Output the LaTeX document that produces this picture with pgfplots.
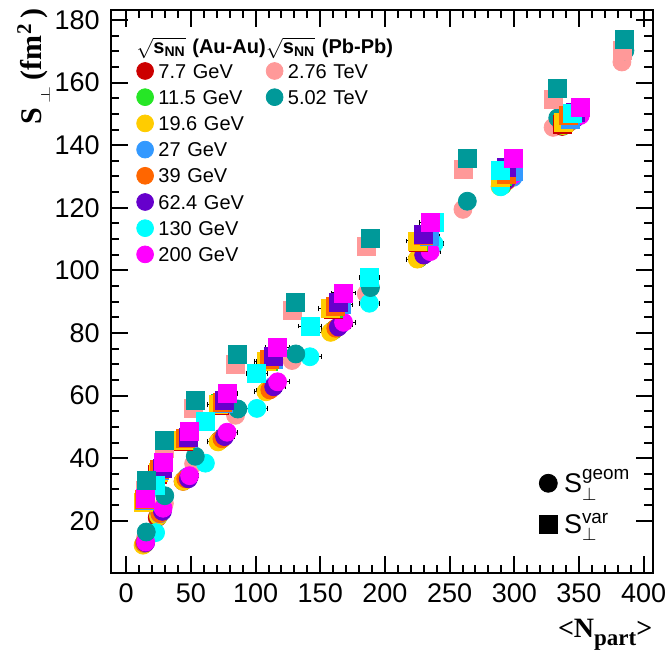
\documentclass[border=0pt]{standalone}
\usepackage{amsmath}
\usepackage{fontspec}
\setmainfont{Liberation Sans}
\newfontfamily\tnr{Liberation Serif}
\usepackage{pgfplots}
\usepackage{pgfplotstable}
\pgfplotsset{compat=1.18}

\definecolor{c77}{RGB}{204,0,0}
\definecolor{c115}{RGB}{38,230,38}
\definecolor{c196}{RGB}{255,204,0}
\definecolor{c27}{RGB}{51,153,255}
\definecolor{c39}{RGB}{255,102,0}
\definecolor{c624}{RGB}{102,0,204}
\definecolor{c130}{RGB}{0,255,255}
\definecolor{c200}{RGB}{255,0,255}
\definecolor{c276}{RGB}{255,153,153}
\definecolor{c502}{RGB}{0,153,153}

% N = <Npart>, geom = S_perp^geom, var = S_perp^var, eN = error on Npart
\pgfplotstableread{
N geom var eN
337 146.0 146.8 3
290 127.0 129.6 5
226 103.8 109.0 8
160 80.8 87.6 9
110 61.8 70.8 9
72 45.6 57.0 8
44 32.6 45.3 7
24 21.0 34.8 5
14 12.6 26.2 4
}\dSevenSeven
\pgfplotstableread{
N geom var eN
338 146.2 147.2 3
291 127.2 129.9 5
226 103.8 109.3 8
160 80.8 87.9 9
110 61.8 71.0 9
73 45.9 57.5 8
45 33.0 45.8 7
25 21.5 35.4 5
14 12.6 26.3 4
}\dElevenFive
\pgfplotstableread{
N geom var eN
338 146.3 147.3 3
289 126.8 129.7 5
225 103.6 109.4 8
158 80.2 87.7 9
108 61.2 70.8 9
71 45.2 57.1 8
44 32.6 45.7 7
25 21.5 35.5 5
13 12.2 26.0 4
}\dNineteen
\pgfplotstableread{
N geom var eN
343 147.5 148.4 3
299 129.7 131.5 5
234 106.5 111.0 8
166 82.8 89.0 9
114 63.2 71.5 9
75 46.8 57.6 8
47 34.0 46.4 7
26 22.2 36.0 5
14 12.8 26.4 4
}\dTwentySeven
\pgfplotstableread{
N geom var eN
342 147.2 149.4 3
294 128.5 130.8 5
230 105.0 111.1 8
162 81.5 88.6 9
111 61.8 71.6 9
74 46.2 57.8 8
46 33.4 46.2 7
26 22.3 36.5 5
14 12.8 26.7 4
}\dThirtyNine
\pgfplotstableread{
N geom var eN
347 148.6 150.5 3
294 128.8 132.9 5
230 104.9 111.6 8
164 81.9 89.7 9
114 62.8 72.4 9
76 46.9 58.5 8
48 33.4 46.6 7
28 23.0 36.8 5
15 13.0 27.0 4
}\dSixtyTwo
\pgfplotstableread{
N geom var eN
345 148.0 150.2 3
289.5 126.7 131.8 5
238 108.5 115.2 7
188 89.5 97.8 8
142 72.4 82.2 9
101 55.9 67.0 8
61.2 38.4 51.8 6
22.7 16.2 31.4 4
}\dOneThirty
\pgfplotstableread{
N geom var eN
351 149.5 152.1 3
299 130.5 135.7 5
235 106.0 115.2 8
168 83.4 92.8 9
117 64.4 75.4 9
78 48.3 60.7 8
49 34.4 48.7 7
28.5 24.0 38.5 5
15 13.2 27.2 4
}\dTwoHundred
\pgfplotstableread{
N geom var
383.2 166.6 170.4
330.0 145.7 154.5
260.3 119.5 132.2
185.6 92.5 107.7
128.2 71.2 87.1
84.5 53.7 70.1
52.1 38.2 56.0
29.5 25.6 43.1
14.9 14.4 29.8
}\dPbA
\pgfplotstableread{
N geom var
385.5 170.2 173.9
333.6 148.7 158.2
263.7 122.1 135.7
188.8 94.5 110.3
131.1 73.3 89.8
86.3 55.7 73.0
53.4 40.6 58.6
29.8 28.0 45.7
15.5 16.4 32.8
}\dPbB

\pgfplotsset{
  geo/.style={only marks, mark=*, mark size=4.5pt, color=#1, mark options={draw=none, fill=#1}, forget plot},
  var/.style={only marks, mark=square*, mark size=4.5pt, color=#1, mark options={draw=none, fill=#1}, forget plot},
  ebar/.style={error bars/.cd, x dir=both, x explicit,
    error bar style={black, line width=0.5pt},
    error mark options={rotate=90, black, mark size=1.2pt, line width=0.5pt}},
  leg/.style={only marks, mark=*, mark size=4.2pt, color=#1, mark options={draw=none, fill=#1}},
  % invisible legend image, same size as a legend circle
  blank/.style={legend image code/.code={\path[draw=none, fill=none] (-4.2pt,-3.6pt) rectangle (4.2pt,3.6pt);}},
}

\newcommand{\hdr}[1]{\makebox[0pt][l]{\hspace*{-10.85pt}\bfseries\fontsize{10}{12}\selectfont$\sqrt{\text{\bfseries s}_{\text{\bfseries NN}}}$ (#1)}}
\newcommand{\flatperp}{\raisebox{-4.1pt}{\scalebox{1}[0.6]{$\scriptstyle\perp$}}}

\begin{document}
\begin{tikzpicture}
\useasboundingbox (-55.35pt,-38.5pt) rectangle (279.15pt,286.5pt);
\begin{axis}[
  scale only axis, width=271pt, height=281.5pt,
  xmin=-12, xmax=407, ymin=3.3, ymax=183.2,
  xtick={0,50,...,400}, ytick={20,40,...,180},
  minor x tick num=4, minor y tick num=3,
  tick align=inside,
  major tick length=8.4pt, minor tick length=4.2pt,
  axis line style={line width=1pt},
  tick style={black, line width=1pt},
  tick label style={font=\fontsize{13.5}{16}\selectfont, inner sep=0pt},
  /pgf/number format/assume math mode=true,
  xticklabel style={yshift=-5pt},
  yticklabel style={xshift=-5.3pt},
  xlabel={\tnr\bfseries\fontsize{14}{16}\selectfont <N\raisebox{-4pt}{\fontsize{11.5}{13}\selectfont part}>},
  xlabel style={at={(axis description cs:1,-0.1137)}, anchor=base east, inner sep=0pt},
  ylabel={\tnr\bfseries\fontsize{15}{17}\selectfont S\kern2pt\flatperp\kern3pt(fm\kern0.5pt\textsuperscript{2}\kern2.5pt)},
  ylabel style={at={(axis description cs:-0.1273,1.0036)}, anchor=base east, inner sep=0pt},
  legend columns=2, legend cell align=left,
  legend image code/.code={\draw[#1] plot coordinates {(0pt,0pt)};},
  legend style={draw=none, fill=none, at={(axis description cs:0.048,0.9489)}, anchor=north west,
    inner sep=0pt, outer sep=0pt, font=\fontsize{10}{12}\selectfont,
    row sep=4.7pt, column sep=2.45pt,
    nodes={inner sep=0pt, text height=7.2pt, text depth=0pt, text width=50pt, align=left},
    /tikz/every even column/.append style={column sep=3.9pt}},
]
% S_perp^geom (circles)
\addplot[geo=c276] table[x=N, y=geom] {\dPbA};
\addplot[geo=c77, ebar] table[x=N, y=geom, x error=eN] {\dSevenSeven};
\addplot[geo=c115, ebar] table[x=N, y=geom, x error=eN] {\dElevenFive};
\addplot[geo=c196, ebar] table[x=N, y=geom, x error=eN] {\dNineteen};
\addplot[geo=c27, ebar] table[x=N, y=geom, x error=eN] {\dTwentySeven};
\addplot[geo=c39, ebar] table[x=N, y=geom, x error=eN] {\dThirtyNine};
\addplot[geo=c624, ebar] table[x=N, y=geom, x error=eN] {\dSixtyTwo};
\addplot[geo=c130, ebar] table[x=N, y=geom, x error=eN] {\dOneThirty};
\addplot[geo=c200, ebar] table[x=N, y=geom, x error=eN] {\dTwoHundred};
\addplot[geo=c502] table[x=N, y=geom] {\dPbB};
% S_perp^var (squares)
\addplot[var=c276] table[x=N, y=var] {\dPbA};
\addplot[var=c77, ebar] table[x=N, y=var, x error=eN] {\dSevenSeven};
\addplot[var=c115, ebar] table[x=N, y=var, x error=eN] {\dElevenFive};
\addplot[var=c196, ebar] table[x=N, y=var, x error=eN] {\dNineteen};
\addplot[var=c27, ebar] table[x=N, y=var, x error=eN] {\dTwentySeven};
\addplot[var=c39, ebar] table[x=N, y=var, x error=eN] {\dThirtyNine};
\addplot[var=c624, ebar] table[x=N, y=var, x error=eN] {\dSixtyTwo};
\addplot[var=c130, ebar] table[x=N, y=var, x error=eN] {\dOneThirty};
\addplot[var=c200, ebar] table[x=N, y=var, x error=eN] {\dTwoHundred};
\addplot[var=c502] table[x=N, y=var] {\dPbB};

% legend, two columns: Au-Au and Pb-Pb
\addlegendimage{blank}\addlegendentry{\hdr{Au-Au}}
\addlegendimage{blank}\addlegendentry{\hdr{Pb-Pb}}
\addlegendimage{leg=c77}\addlegendentry{7.7 GeV}
\addlegendimage{leg=c276}\addlegendentry{2.76 TeV}
\addlegendimage{leg=c115}\addlegendentry{11.5 GeV}
\addlegendimage{leg=c502}\addlegendentry{5.02 TeV}
\addlegendimage{leg=c196}\addlegendentry{19.6 GeV}
\addlegendimage{blank}\addlegendentry{}
\addlegendimage{leg=c27}\addlegendentry{27 GeV}
\addlegendimage{blank}\addlegendentry{}
\addlegendimage{leg=c39}\addlegendentry{39 GeV}
\addlegendimage{blank}\addlegendentry{}
\addlegendimage{leg=c624}\addlegendentry{62.4 GeV}
\addlegendimage{blank}\addlegendentry{}
\addlegendimage{leg=c130}\addlegendentry{130 GeV}
\addlegendimage{blank}\addlegendentry{}
\addlegendimage{leg=c200}\addlegendentry{200 GeV}
\end{axis}

% marker-shape legend
\begin{axis}[
  scale only axis, width=271pt, height=281.5pt, hide axis,
  xmin=0, xmax=1, ymin=0, ymax=1,
  legend cell align=left,
  legend image code/.code={\draw[#1] plot coordinates {(0pt,0pt)};},
  legend style={draw=none, fill=none, at={(axis description cs:0.7908,0.1766)}, anchor=north west,
    inner sep=0pt, outer sep=0pt, font=\fontsize{13.5}{16}\selectfont,
    row sep=10.65pt, column sep=3.35pt,
    nodes={inner sep=0pt, text height=9.7pt, text depth=0pt}},
]
\addlegendimage{only marks, mark=*, black, mark size=4.5pt}
\addlegendentry{S$_{\perp}^{\text{geom}}$}
\addlegendimage{only marks, mark=square*, black, mark size=4.5pt}
\addlegendentry{S$_{\perp}^{\text{var}}$}
\end{axis}
\end{tikzpicture}
\end{document}
